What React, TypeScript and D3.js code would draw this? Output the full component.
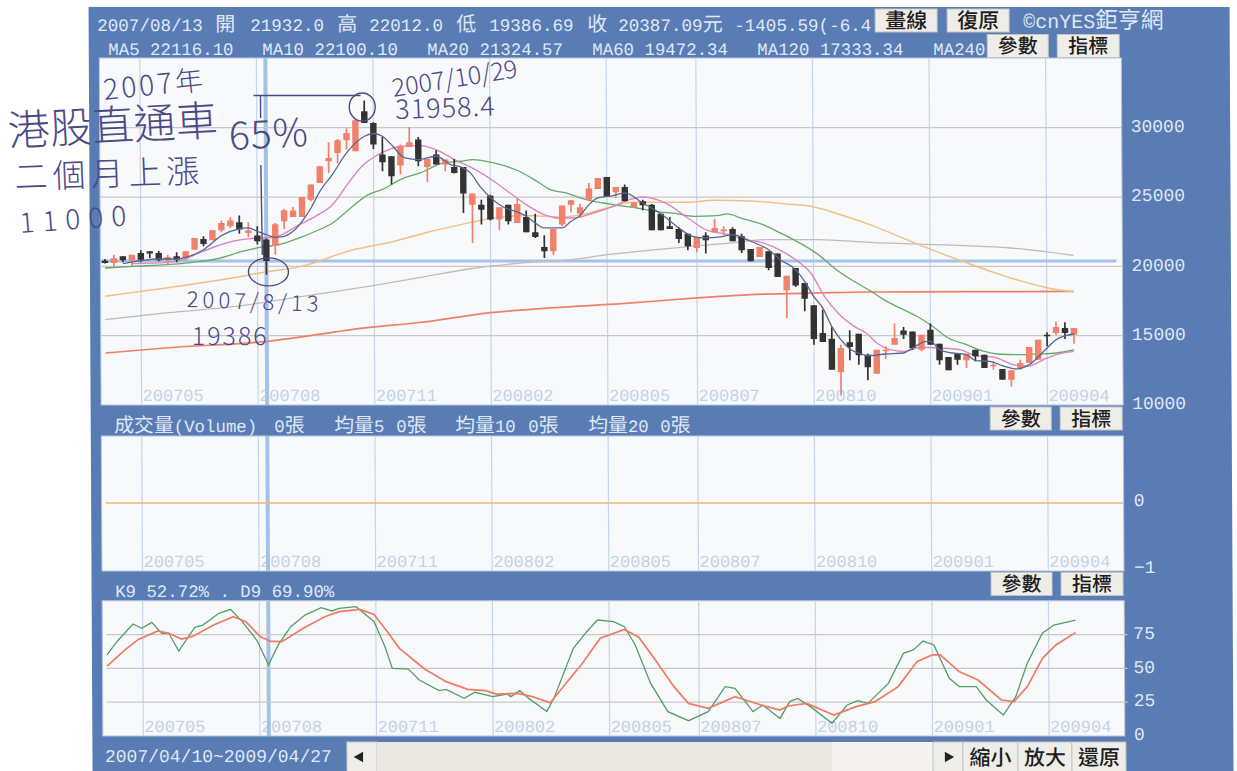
import React, { useEffect, useRef } from 'react';
import * as d3 from 'd3';

// weekly candles (index 0 = 2007/04/10)
const opens = [20410,20240,20720,20440,20970,21090,20970,20440,20720,20600,21200,21980,21880,22600,22890,23180,22410,22220,21932,21490,23250,23560,23560,24810,26020,27580,28180,29090,28300,31190,30340,28060,27940,27270,28610,29140,27170,28060,27340,27170,27170,24450,24450,25100,23370,24450,23130,23560,22460,21400,21090,23010,24450,23800,24810,25580,26450,25340,25730,24280,24690,24450,23800,22890,22700,22360,21330,22220,22460,22530,22700,22170,21250,20680,21090,20920,18270,19880,18800,17190,15190,14780,12360,14520,15140,13630,12260,13870,14350,15380,15310,13990,15430,14420,13460,13700,13220,13990,13630,12790,12600,11830,12670,13030,13270,15070,15190,15550,15070];
const highs = [20530,20840,20720,20840,21160,21090,21110,20840,21010,21090,22050,22170,22600,23300,23540,23660,23180,22890,22012,23130,24140,24280,25000,25900,27220,28950,29190,29980,30540,31958,30390,29330,27940,28780,30050,29330,27750,28370,27700,27750,27170,25250,24810,25170,24260,24450,24890,24020,23800,22240,22700,24380,24760,24520,26020,26380,26450,25730,25900,24620,24810,24500,23800,23560,22840,22360,22120,22460,23420,22890,22820,22360,21250,21400,21090,20920,19330,19880,18800,17190,16880,15630,14350,15390,15140,13700,13990,14230,15870,15630,15310,15070,15870,14420,13460,13700,13700,13990,13630,13150,12600,12500,13270,14180,14710,15240,16030,15960,15550];
const lows = [20200,20000,20290,20000,20290,20600,20360,20120,20290,20480,21200,21450,21880,22460,22770,22360,22100,21570,19387,20840,22700,23560,23560,24690,26020,26740,27410,28420,28300,30340,28470,26860,25900,26620,28610,27220,26090,27340,26860,26690,23850,21690,23010,23300,22600,23010,23130,22460,22050,20600,20800,22890,23900,23490,24690,25580,25050,24930,24690,24200,24040,22600,22600,22700,21690,21160,21010,20920,22460,22240,21810,20960,20360,20680,19710,19230,16280,18510,16760,14350,14540,12550,10740,13220,12910,11780,12260,13320,14350,14760,13990,13870,14350,12910,12500,12910,12670,13150,12670,12550,11830,11340,12550,13030,13270,14230,15070,14760,14420];
const closes = [20240,20580,20440,20840,20480,20920,20440,20680,20480,21090,22050,21610,22600,23130,23300,22650,22600,21810,20387,23030,24040,24020,25000,25900,27220,27820,29090,29620,30540,30340,28780,27510,26500,28660,28950,27580,27750,27340,27700,26740,25250,25250,24090,23370,24260,23250,24500,22460,22120,21090,22700,24380,24760,24260,25610,26380,25050,25730,24690,24600,24400,22600,22600,22700,21980,21450,22120,21880,22770,22650,21810,21160,20360,21400,19880,19230,19330,18610,17670,14760,14540,12550,14110,14180,13580,12720,13990,13990,14830,15070,14110,15070,14350,13220,12500,13270,13700,13510,12670,12910,11830,12500,13030,14180,14710,14950,15630,15190,15550];

// moving averages as [week index, price]
const ma5: [number, number][] = [[2,20200],[4,20410],[6,20530],[8,20530],[9,20650],[11,21200],[13,22220],[15,22700],[16,22770],[17,22530],[18,22290],[19,22100],[20,22170],[21,22530],[22,23250],[23,24210],[24,25410],[25.4,26620],[27,28180],[29,29380],[30,29580],[31,29380],[32,28780],[33.5,27820],[35,27700],[37,27940],[38.6,27340],[39.7,27170],[40.8,26740],[41.9,25730],[43.3,24810],[44.5,24260],[46,23920],[47,23610],[48,23130],[49,22770],[51,22770],[52,23250],[53,23660],[54,24450],[55,24930],[56.7,25100],[58,25300],[60,24570],[62,23800],[64,22770],[65.5,22170],[67,22050],[68.6,22120],[70,22290],[72,21810],[74,21200],[75.3,20480],[77,19760],[78,18920],[79,17840],[80,17000],[81,15670],[82,14710],[83,14040],[84.3,13680],[85,13560],[87,13680],[89,13750],[90,14110],[91.6,14590],[92,14590],[93,13990],[94,13800],[96,13630],[97,13200],[98.6,13150],[100,12840],[101.6,12600],[103,12910],[105,14110],[106,14710],[108,15120]];
const ma10: [number, number][] = [[3,20200],[7,20290],[8.7,20480],[10.5,20970],[12.4,21450],[14.3,21810],[16,21980],[17.6,22050],[19,22120],[21.7,23010],[23.5,23610],[25.4,24450],[27.2,26020],[28.7,27220],[30.2,27940],[31.7,28420],[33,28660],[35.2,28710],[37.4,28300],[39,27700],[41,27100],[43.4,26140],[45.2,25290],[47,24450],[49,23730],[50.4,23490],[52.3,23490],[54.5,23850],[56.7,24330],[58.5,24810],[60,25000],[62.5,24570],[65,23490],[67,22650],[69.5,22290],[71.5,21930],[73.4,21690],[75.5,21090],[77.5,20240],[78.7,19520],[80.2,17840],[81.7,16640],[83.5,15670],[85,15100],[86,14470],[87.5,13990],[89,13870],[91,14160],[93,14110],[95.3,13990],[97,13560],[99,13460],[101.2,12910],[102.7,12790],[105,13390],[106,13630],[108,13870]];
const ma20: [number, number][] = [[0,19880],[3.1,20000],[6.9,20120],[9.8,20290],[12.4,20530],[15.4,21090],[17.6,21400],[19.4,21570],[21.7,22050],[23.5,22530],[25.4,23130],[27.2,24090],[29.4,25170],[30.9,25530],[33.4,26380],[35.2,26740],[37.8,27460],[39.7,27580],[41.1,27700],[43.4,27460],[46,26930],[48.2,26140],[49.7,25530],[51.5,25290],[53.7,24810],[55.6,24570],[57.4,24380],[58.7,24280],[61.3,23970],[63.8,23800],[65.7,23610],[68.3,23660],[69.4,23780],[71.2,23420],[73.4,23010],[75.3,22410],[76.8,21930],[79.8,20720],[81.3,19880],[83.5,18920],[85.4,18200],[86.8,17600],[88.6,17000],[90.5,16400],[92,15790],[94,14830],[96,14350],[98,13870],[99.4,13680],[101.6,13630],[104,13680],[106,13750],[108,13990]];
const ma60: [number, number][] = [[0,17840],[7,18460],[14.3,19180],[18,19610],[21.8,19980],[27.4,21150],[32.3,21810],[36,22460],[39.7,23010],[43.4,23490],[47,23660],[51,23560],[52.7,23660],[55.6,24140],[59,24620],[62.5,24620],[65,24620],[68,24760],[72.5,24690],[76,24500],[78.7,24330],[81.7,23800],[85.3,23010],[90.2,21710],[96,20270],[100.5,19260],[105,18460],[108,18170]];
const ma120: [number, number][] = [[0,16160],[7,16660],[14.3,17090],[21.8,17820],[29.2,18540],[35,19180],[41.5,19900],[47,20270],[52,20480],[56,20840],[61.5,21210],[65,21420],[70,21700],[74,21930],[79.5,21930],[85.3,21730],[96,21490],[100.7,21340],[108,20790]];
const ma240: [number, number][] = [[0,13750],[7,14130],[18,14590],[29.2,15580],[35,15950],[43,16660],[50,17020],[57.6,17310],[66,17720],[72,17960],[79.5,18080],[85,18150],[96,18170],[108,18200]];

// stochastic lines, [week index, percent]
const kLine: [number, number][] = [[0,59.9],[1.1,69.7],[2.9,82.8],[3.9,79.6],[5,84],[6.1,75.9],[6.9,75.9],[8,62.8],[9.8,80.3],[10.7,82],[12.5,90.7],[13.8,93.6],[15.1,84.5],[16.7,70.9],[18,52.7],[19.1,67.3],[20.5,80.8],[22.1,89.4],[23.9,94.9],[25.1,92.4],[25.9,94.4],[27.8,95.6],[29.8,84.5],[31,66],[31.8,50],[33.6,49.5],[34.8,41.4],[37,33.5],[37.8,34.5],[39.8,27.8],[41,32.3],[43,29.1],[44.6,31],[45,29.1],[46,33.5],[47,27.8],[49,18],[49.8,27.8],[52,64.8],[53.5,77.1],[54.7,85.7],[56.5,84.5],[57.7,80.8],[58.9,67.3],[60.6,38.9],[62.5,18],[64.8,11.3],[67,18],[68.9,36.5],[70,35.2],[72,18],[73.1,22.9],[75,13],[76.1,25.4],[77,27.8],[78.4,21.7],[80.8,9.4],[82.5,22.9],[83.7,26.1],[84.8,24.1],[87.1,38.9],[88.8,61.1],[89.9,63.6],[91,70.2],[92.2,67.3],[93.9,42.6],[95,36.5],[96.9,36.5],[98,26.6],[99.9,15.5],[101.3,29.1],[102.6,53.7],[104.3,75.9],[105.6,82],[108,85.7]];
const dLine: [number, number][] = [[0,51.7],[2,63.6],[3.5,71.4],[5.7,77.6],[6.9,75.9],[8.3,71.7],[9.5,73.4],[11.9,82],[14.1,88.2],[15.5,84.5],[17.1,73.4],[18.3,69.9],[19.5,69.7],[21.9,79.6],[24.3,88.2],[25.9,91.9],[28.2,93.6],[29.8,89.9],[31.4,75.9],[32.6,64.8],[35.4,49.5],[37.8,40.2],[40.2,34.5],[42.2,33.5],[43.4,31],[45.8,31.5],[47.4,29.1],[49.4,24.6],[51,37.7],[53,53.7],[55,72.2],[57.7,78.8],[59.3,73],[61,57.4],[63.2,36.5],[64.8,24.1],[67,20.4],[70,29.1],[72.9,22.9],[75,19.2],[75.9,22.2],[78,24.1],[81,15.5],[83.5,21.7],[85.6,25.4],[88.2,36.5],[90.3,54.9],[92,59.9],[92.9,59.9],[95,47.6],[97.1,41.4],[99.7,26.6],[101.1,25.4],[102.6,36.5],[104.3,57.4],[105.8,67.3],[108,76.4]];

const gridWeeks = [4, 17, 30, 43, 56, 66, 79, 92, 105];
const gridLabels = ['200705', '200708', '200711', '200802', '200805', '200807', '200810', '200901', '200904'];
const priceTicks = [30000, 25000, 20000, 15000, 10000];
const kdTicks = [75, 50, 25, 0];
const volumeTicks = [0, -1];
const cursorWeek = 18;
const cursorPrice = 20387;

const MONO = '"Liberation Mono", "Noto Sans CJK TC", monospace';
const CJK = '"Noto Sans CJK TC", sans-serif';
const PANEL = '#5a7cb5';
const PAPER = '#f8f9fb';
const GRID_V = '#c6d5ea';
const GRID_H = '#c9c9cb';
const LABEL = '#dfe8f6';
const INK = '#4c4a86';
const UP = '#f0816b';
const DOWN = '#333333';

const App: React.FC = () => {
  const svgRef = useRef<SVGSVGElement>(null);

  useEffect(() => {
    if (!svgRef.current) return;
    const svg = d3.select(svgRef.current);
    svg.selectAll('*').remove();

    // the scan sits slightly crooked on the page
    const page = svg.append('g').attr('transform', 'skewX(0.3)');

    const left = 99;
    const right = 1121;
    const x = d3.scaleLinear().domain([0, 108]).range([103.6, 1072.2]);
    const yPrice = d3.scaleLinear().domain([10000, 30000]).range([405, 127.7]);
    const yVolume = d3.scaleLinear().domain([-1, 0]).range([570, 503]);
    const yKd = d3.scaleLinear().domain([0, 100]).range([736, 600.7]);

    const text = (t: string, px: number, py: number, size: number, fill: string, font = MONO) =>
      page.append('text')
        .attr('x', px).attr('y', py)
        .style('font-family', font).style('font-size', `${size}px`)
        .style('fill', fill).text(t);

    // the old bitmap font sets Chinese at twice the width of a digit
    const header = (t: string, px: number, py: number, size: number) => {
      const node = page.append('text').attr('x', px).attr('y', py)
        .style('font-family', MONO).style('fill', LABEL);
      (t.match(/[\u4e00-\u9fff]+|[^\u4e00-\u9fff]+/g) || []).forEach(run => {
        const wide = /[\u4e00-\u9fff]/.test(run);
        node.append('tspan')
          .style('font-size', `${wide ? size * 1.14 : size}px`)
          .style('white-space', 'pre')
          .text(run);
      });
    };

    const button = (t: string, bx: number, by: number, w: number, h: number, size = 20) => {
      page.append('rect').attr('x', bx).attr('y', by).attr('width', w).attr('height', h)
        .attr('fill', '#efede8').attr('stroke', '#c4c4c4').attr('stroke-width', 1);
      if (t) {
        text(t, bx + w / 2, by + h / 2 + size * 0.36, size, '#1e1e1e', CJK)
          .attr('text-anchor', 'middle').style('font-weight', 500);
      }
    };

    // background
    page.append('rect').attr('x', 88.5).attr('y', 7).attr('width', 1141).attr('height', 770).attr('fill', PANEL);

    const panels: [number, number][] = [[58, 405], [436, 571], [600.7, 736]];
    panels.forEach(([top, bottom]) => {
      page.append('rect').attr('x', left).attr('y', top).attr('width', right - left).attr('height', bottom - top)
        .attr('fill', PAPER).attr('stroke', '#b4c6e2');

      gridWeeks.forEach((w, i) => {
        page.append('line').attr('x1', x(w)).attr('x2', x(w)).attr('y1', top).attr('y2', bottom)
          .attr('stroke', GRID_V).attr('stroke-width', 1.2);
        text(gridLabels[i], x(w) + 1, bottom - 4, 17, '#c4d3e9');
      });
      page.append('line').attr('x1', x(cursorWeek)).attr('x2', x(cursorWeek)).attr('y1', top).attr('y2', bottom)
        .attr('stroke', '#a6c1e6').attr('stroke-width', 4);
    });

    // horizontal grids
    priceTicks.slice(0, 4).forEach(t => {
      page.append('line').attr('x1', left).attr('x2', right).attr('y1', yPrice(t)).attr('y2', yPrice(t))
        .attr('stroke', GRID_H).attr('stroke-width', 1.2);
    });
    kdTicks.slice(0, 3).forEach(t => {
      page.append('line').attr('x1', left + 4).attr('x2', right + 3).attr('y1', yKd(t)).attr('y2', yKd(t))
        .attr('stroke', GRID_H).attr('stroke-width', 1.2);
    });
    page.append('line').attr('x1', left + 4).attr('x2', right).attr('y1', yVolume(0)).attr('y2', yVolume(0))
      .attr('stroke', '#f2b67a').attr('stroke-width', 1.5);
    page.append('line').attr('x1', left).attr('x2', right - 6).attr('y1', yPrice(cursorPrice)).attr('y2', yPrice(cursorPrice))
      .attr('stroke', '#a6c1e6').attr('stroke-width', 3);

    // moving averages
    const maLine = d3.line<[number, number]>()
      .x(d => x(d[0])).y(d => yPrice(d[1])).curve(d3.curveMonotoneX);
    const maStyles: [[number, number][], string, number][] = [
      [ma240, '#ef8068', 1.7], [ma120, '#bdbdbd', 1.3], [ma60, '#f3bf85', 1.5],
      [ma20, '#63ab66', 1.3], [ma10, '#dc84c4', 1.4],
    ];
    maStyles.forEach(([data, color, w]) => {
      page.append('path').attr('d', maLine(data)).attr('fill', 'none').attr('stroke', color).attr('stroke-width', w);
    });

    // candles
    const candles = page.append('g');
    opens.forEach((open, i) => {
      const color = closes[i] >= open ? UP : DOWN;
      const cx = x(i);
      candles.append('line').attr('x1', cx).attr('x2', cx)
        .attr('y1', yPrice(highs[i])).attr('y2', yPrice(lows[i]))
        .attr('stroke', color).attr('stroke-width', 1.7);
      const top = yPrice(Math.max(open, closes[i]));
      const h = Math.abs(yPrice(open) - yPrice(closes[i]));
      candles.append('rect').attr('x', cx - 3.2).attr('y', top).attr('width', 6.4).attr('height', Math.max(h, 1.5))
        .attr('fill', color);
    });
    page.append('path').attr('d', maLine(ma5)).attr('fill', 'none').attr('stroke', '#56678f').attr('stroke-width', 1.3);

    // stochastic lines
    const kdLine = d3.line<[number, number]>().x(d => x(d[0])).y(d => yKd(d[1]));
    page.append('path').attr('d', kdLine(kLine)).attr('fill', 'none').attr('stroke', '#559d66').attr('stroke-width', 1.3);
    page.append('path').attr('d', kdLine(dLine)).attr('fill', 'none').attr('stroke', '#ee7b66').attr('stroke-width', 1.7);

    // right hand axes
    const axisOf = (scale: d3.ScaleLinear<number, number>, ticks: number[], dy: number, fx: number) => {
      const axis = page.append('g').attr('transform', `translate(${fx},${dy})`)
        .call(d3.axisRight(scale).tickValues(ticks).tickSize(0).tickFormat(d3.format('d')));
      axis.select('.domain').remove();
      axis.selectAll('text').attr('x', 0).style('font-family', MONO).style('font-size', '18px').style('fill', LABEL);
    };
    axisOf(yPrice, priceTicks, -2, 1130);
    axisOf(yVolume, volumeTicks, -3, 1131);
    axisOf(yKd, kdTicks, -2, 1130);

    // header lines, cut where the buttons cover them on the page
    const topRow: [string, number][] = [
      ['2007/08/13', 97], ['開', 215], ['21932.0', 250], ['高', 337], ['22012.0', 369], ['低', 456],
      ['19386.69', 489], ['收', 587], ['20387.09元', 618], ['-1405.59(-6.4', 734],
    ];
    topRow.forEach(([t, px]) => header(t, px, 31, 17.6));
    const maRow: [string, number][] = [
      ['MA5 22116.10', 108], ['MA10 22100.10', 262], ['MA20 21324.57', 427],
      ['MA60 19472.34', 592], ['MA120 17333.34', 757], ['MA240', 933],
    ];
    maRow.forEach(([t, px]) => header(t, px, 55, 17.4));
    header('©cnYES鉅亨網', 1023, 28, 20);

    const volRow: [string, number][] = [
      ['成交量(Volume)', 112], ['0張', 272], ['均量5', 332], ['0張', 394], ['均量10', 453], ['0張', 526], ['均量20', 586], ['0張', 658],
    ];
    volRow.forEach(([t, px]) => header(t, px, 432, 17.4));
    header('K9 52.72% . D9 69.90%', 112, 597, 17.4);
    header('2007/04/10~2009/04/27', 101, 762, 18);

    // buttons
    button('畫線', 875, 9, 62, 23, 21);
    button('復原', 947, 9, 62, 23, 21);
    [[34.5, 987], [407, 988], [572.5, 988]].forEach(([by, bx]) => {
      button('參數', bx, by, 61, 23);
      button('指標', bx + 70, by, 62, 23);
    });

    // scroll bar
    button('', 343, 742, 30, 30);
    page.append('rect').attr('x', 373).attr('y', 742).attr('width', 556).attr('height', 30).attr('fill', '#f4f3ef');
    page.append('rect').attr('x', 373).attr('y', 742).attr('width', 455).attr('height', 30).attr('fill', '#e9e7e1');
    button('', 929, 742, 30, 30);
    const arrow = d3.symbol().type(d3.symbolTriangle).size(50);
    page.append('path').attr('d', arrow()).attr('transform', 'translate(356,757) rotate(-90)').attr('fill', '#222');
    page.append('path').attr('d', arrow()).attr('transform', 'translate(944,757) rotate(90)').attr('fill', '#222');
    button('縮小', 959, 742, 55, 30, 21);
    button('放大', 1014, 742, 54, 30, 21);
    button('還原', 1068, 742, 54, 30, 21);

    // pen notes on the print
    const note = (t: string, px: number, py: number, size: number, angle = 0, spacing = 0) =>
      page.append('text').attr('transform', `translate(${px},${py}) rotate(${angle})`)
        .style('font-family', CJK).style('font-weight', 300).style('font-size', `${size}px`)
        .style('letter-spacing', `${spacing}px`).style('fill', INK).text(t);
    note('2007年', 104, 100, 28, -6, 3);
    note('港股直通車', 8, 146, 42, -3);
    note('二個月上漲', 14, 189, 33, -2, 5);
    note('11000', 19, 233, 28, -4, 8);
    note('65%', 229, 150, 39, -3, 1);
    note('2007/10/29', 393, 97, 25, -9);
    note('31958.4', 395, 119, 27, -2, 1);
    note('2007/8/13', 185, 307, 22, 2, 4);
    note('19386', 190, 345, 25, 0, 2);

    const ink = page.append('g').attr('fill', 'none').attr('stroke', INK).attr('stroke-width', 1.4);
    const topY = yPrice(31958) - 5;
    ink.append('line').attr('x1', 253).attr('x2', 360).attr('y1', topY).attr('y2', topY);
    ink.append('line').attr('x1', 260).attr('x2', 260).attr('y1', topY).attr('y2', 118);
    ink.append('line').attr('x1', 260).attr('x2', 261).attr('y1', 165).attr('y2', 255);
    ink.append('ellipse').attr('cx', x(29) - 2).attr('cy', 107).attr('rx', 13).attr('ry', 14);
    ink.append('ellipse').attr('cx', x(cursorWeek) + 2).attr('cy', yPrice(19386) - 3).attr('rx', 20).attr('ry', 14);
  }, []);

  return (
    <svg ref={svgRef} width={1237} height={771} style={{ position: 'fixed', left: 0, top: 0, background: '#fff' }} />
  );
};

export default App;
